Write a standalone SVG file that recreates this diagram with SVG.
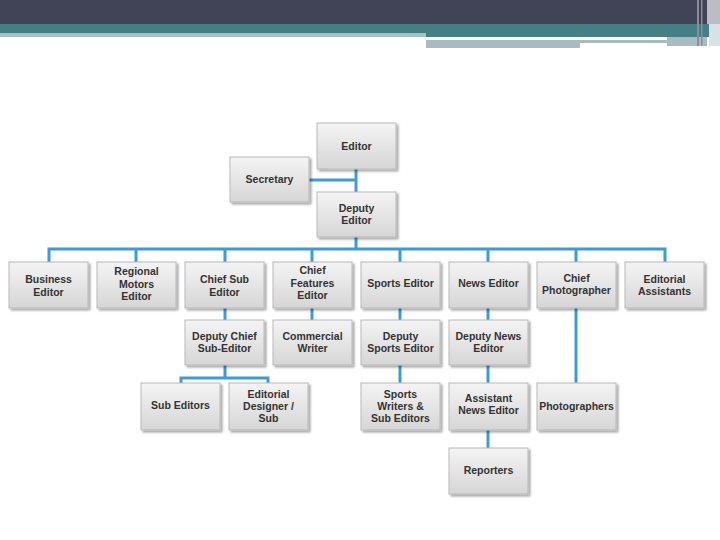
<svg xmlns="http://www.w3.org/2000/svg" width="720" height="540" viewBox="0 0 720 540">
<defs>
<linearGradient id="g" x1="0" y1="0" x2="0" y2="1">
<stop offset="0" stop-color="#f4f4f4"/>
<stop offset="1" stop-color="#d6d6d6"/>
</linearGradient>
<filter id="sh" x="-10%" y="-10%" width="130%" height="130%">
<feGaussianBlur in="SourceAlpha" stdDeviation="1.2"/>
<feOffset dx="1.5" dy="1.5" result="b"/>
<feComponentTransfer><feFuncA type="linear" slope="0.35"/></feComponentTransfer>
<feMerge><feMergeNode/><feMergeNode in="SourceGraphic"/></feMerge>
</filter>
</defs>
<style>
.box{fill:url(#g);stroke:#b8b8b8;stroke-width:1;filter:url(#sh)}
.t{font-family:"Liberation Sans",Arial,sans-serif;font-weight:bold;font-size:10.5px;fill:#333;text-anchor:middle}
.c{stroke:#3d9cd2;stroke-width:3;fill:none}
</style>
<rect width="720" height="540" fill="#fff"/>
<g id="header">
<rect x="0" y="0" width="720" height="24" fill="#414356"/>
<rect x="0" y="24" width="720" height="9" fill="#457f84"/>
<rect x="0" y="33" width="426" height="4" fill="#a6c1c5"/>
<rect x="426" y="33" width="284" height="4" fill="#457f84"/>
<rect x="426" y="40" width="241" height="3" fill="#a6bcc0"/>
<rect x="426" y="43" width="154" height="5" fill="#a6bcc0"/>
<rect x="667" y="37" width="40" height="9" fill="#a6bcc0"/>
<rect x="697" y="0" width="2" height="46" fill="#8a8c99"/>
<rect x="701" y="0" width="1.5" height="46" fill="#8a8c99"/>
<rect x="707" y="0" width="13" height="24" fill="#bcbcc4"/>
<rect x="709" y="24" width="11" height="22" fill="#d6e2e3"/>
</g>
<g id="connectors">
<path class="c" d="M356 169V249M309 180H356"/>
<path class="c" d="M49 262V249H665V262M136 249V262M225 249V262M312 249V262M400 249V262M488 249V262M576 249V262"/>
<path class="c" d="M225 308V320M312 308V320M400 308V320M488 308V320"/>
<path class="c" d="M225 365V378M181 383V378H268V383"/>
<path class="c" d="M400 365V383M488 365V383M576 308V383M488 430V448"/>
</g>
<g id="editor"><rect class="box" x="317" y="123" width="79" height="46"/><text class="t" x="356.5" y="150">Editor</text></g>
<g id="secretary"><rect class="box" x="230" y="157" width="79" height="45"/><text class="t" x="269.5" y="183">Secretary</text></g>
<g id="deputy-editor"><rect class="box" x="317" y="192" width="79" height="45"/><text class="t" x="356.5" y="212">Deputy</text><text class="t" x="356.5" y="224">Editor</text></g>
<g id="business-editor"><rect class="box" x="9" y="262" width="79" height="46"/><text class="t" x="48.5" y="283">Business</text><text class="t" x="48.5" y="296">Editor</text></g>
<g id="regional-motors-editor"><rect class="box" x="97" y="262" width="79" height="46"/><text class="t" x="136.5" y="275">Regional</text><text class="t" x="136.5" y="288">Motors</text><text class="t" x="136.5" y="300">Editor</text></g>
<g id="chief-sub-editor"><rect class="box" x="185" y="262" width="79" height="46"/><text class="t" x="224.5" y="283">Chief Sub</text><text class="t" x="224.5" y="296">Editor</text></g>
<g id="chief-features-editor"><rect class="box" x="273" y="262" width="79" height="46"/><text class="t" x="312.5" y="274">Chief</text><text class="t" x="312.5" y="287">Features</text><text class="t" x="312.5" y="299">Editor</text></g>
<g id="sports-editor"><rect class="box" x="361" y="262" width="79" height="46"/><text class="t" x="400.5" y="287">Sports Editor</text></g>
<g id="news-editor"><rect class="box" x="449" y="262" width="79" height="46"/><text class="t" x="488.5" y="287">News Editor</text></g>
<g id="chief-photographer"><rect class="box" x="537" y="262" width="79" height="46"/><text class="t" x="576.5" y="282">Chief</text><text class="t" x="576.5" y="294">Photographer</text></g>
<g id="editorial-assistants"><rect class="box" x="625" y="262" width="79" height="46"/><text class="t" x="664.5" y="283">Editorial</text><text class="t" x="664.5" y="295">Assistants</text></g>
<g id="deputy-chief-sub-editor"><rect class="box" x="185" y="320" width="79" height="45"/><text class="t" x="224.5" y="340">Deputy Chief</text><text class="t" x="224.5" y="352">Sub-Editor</text></g>
<g id="commercial-writer"><rect class="box" x="273" y="320" width="79" height="45"/><text class="t" x="312.5" y="340">Commercial</text><text class="t" x="312.5" y="352">Writer</text></g>
<g id="deputy-sports-editor"><rect class="box" x="361" y="320" width="79" height="45"/><text class="t" x="400.5" y="340">Deputy</text><text class="t" x="400.5" y="352">Sports Editor</text></g>
<g id="deputy-news-editor"><rect class="box" x="449" y="320" width="79" height="45"/><text class="t" x="488.5" y="340">Deputy News</text><text class="t" x="488.5" y="352">Editor</text></g>
<g id="sub-editors"><rect class="box" x="141" y="383" width="79" height="47"/><text class="t" x="180.5" y="409">Sub Editors</text></g>
<g id="editorial-designer-sub"><rect class="box" x="229" y="383" width="79" height="47"/><text class="t" x="268.5" y="398">Editorial</text><text class="t" x="268.5" y="410">Designer /</text><text class="t" x="268.5" y="422">Sub</text></g>
<g id="sports-writers"><rect class="box" x="361" y="383" width="79" height="47"/><text class="t" x="400.5" y="398">Sports</text><text class="t" x="400.5" y="410">Writers &amp;</text><text class="t" x="400.5" y="422">Sub Editors</text></g>
<g id="assistant-news-editor"><rect class="box" x="449" y="383" width="79" height="47"/><text class="t" x="488.5" y="402">Assistant</text><text class="t" x="488.5" y="414">News Editor</text></g>
<g id="photographers"><rect class="box" x="537" y="383" width="79" height="47"/><text class="t" x="576.5" y="410">Photographers</text></g>
<g id="reporters"><rect class="box" x="449" y="448" width="79" height="46"/><text class="t" x="488.5" y="474">Reporters</text></g>
</svg>
